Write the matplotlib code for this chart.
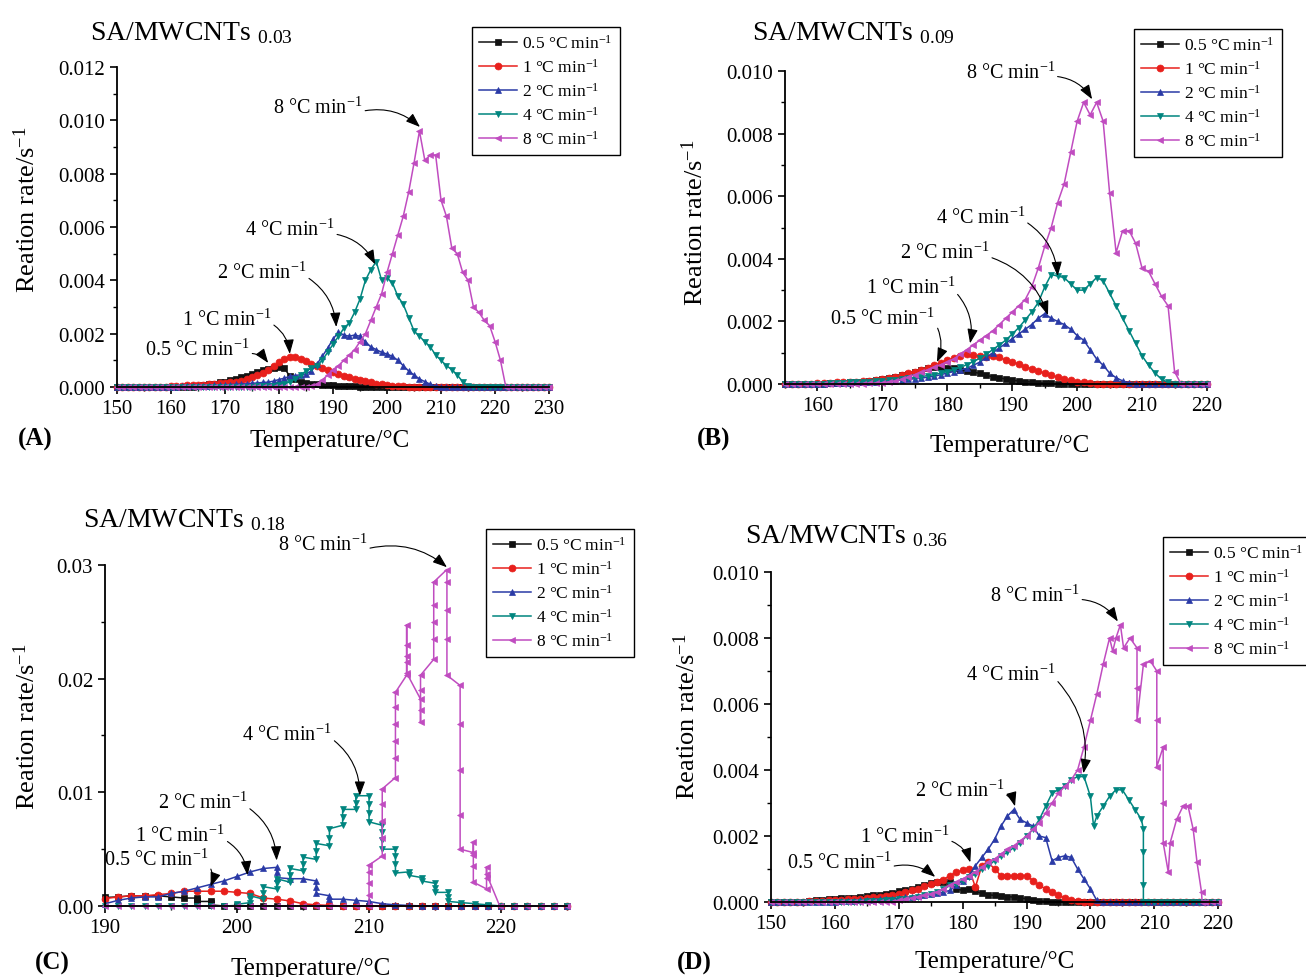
import matplotlib
matplotlib.use("Agg")
import matplotlib.pyplot as plt
from matplotlib.ticker import MultipleLocator, FormatStrFormatter

plt.rcParams['font.family'] = ['Liberation Serif', 'DejaVu Serif']
plt.rcParams['mathtext.fontset'] = 'custom'
plt.rcParams['mathtext.rm'] = 'Liberation Serif'
plt.rcParams['mathtext.it'] = 'Liberation Serif:italic'

# rates are given in units of 1e-4 s^-1
SCALE = 1e-4
heating = ['0.5', '1', '2', '4', '8']
colors = ['#111111', '#e8201c', '#2a3aa6', '#00857f', '#c04cc0']
markers = ['s', 'o', '^', 'v', '<']

# ---- (A) SA/MWCNTs 0.03 ----
temp_a = list(range(150, 231))
a_05 = [0, 0, 0, 0, 0, 0, 0, 0, 0, 0, 0, 0, 0, 0, 0,
        0.5, 0.7, 1, 1.3, 1.7, 2, 2.5, 3, 3.6, 4.2, 4.8, 5.5, 6.2, 6.8, 7.2, 7.4, 7,
        4, 3, 2, 1.5, 1.2, 1, 0.9, 0.8, 0.6, 0.5, 0.4, 0.3, 0.2, 0.15, 0.1,
        0, 0, 0, 0, 0, 0, 0, 0, 0, 0, 0, 0, 0, 0, 0, 0, 0, 0, 0, 0, 0, 0, 0, 0, 0, 0,
        0, 0, 0, 0, 0, 0, 0, 0]
a_1 = [0, 0, 0, 0, 0, 0, 0, 0, 0, 0,
       0.3, 0.4, 0.5, 0.6, 0.7, 0.8, 0.9, 1, 1.2, 1.4, 1.5, 1.7, 1.9, 2.4, 3, 3.6,
       4.4, 5.2, 6.4, 7.8, 9.2, 10.5, 11.2, 11.4, 10.5, 9.6, 8.8, 8, 7.2, 6.3, 5.5,
       4.8, 4.2, 3.6, 3.1, 2.6, 2.2, 1.8, 1.3, 1, 0.6, 0.4, 0.3, 0.2, 0.1, 0.05,
       0, 0, 0, 0, 0, 0, 0, 0, 0, 0, 0, 0, 0, 0, 0, 0, 0, 0, 0, 0, 0, 0, 0, 0, 0]
a_2 = [0, 0, 0, 0, 0, 0, 0, 0, 0, 0,
       0.1, 0.15, 0.2, 0.25, 0.3, 0.35, 0.4, 0.5, 0.6, 0.7, 0.8, 0.9, 1, 1.1, 1.2,
       1.4, 1.5, 1.7, 1.8, 2.2, 2.8, 3.3, 4, 4.3, 4.6, 4.9, 6, 8.5, 11.5, 14.5, 18,
       20.5, 19.5, 19, 19.5, 19, 17, 15, 14, 13, 12.3, 11.5, 10, 8, 6, 4.5, 3, 2, 1,
       0.4, 0.1,
       0, 0, 0, 0, 0, 0, 0, 0, 0, 0, 0, 0, 0, 0, 0, 0, 0, 0, 0, 0]
a_4 = [0, 0, 0, 0, 0, 0, 0, 0, 0, 0, 0, 0, 0, 0, 0, 0, 0, 0, 0, 0, 0, 0, 0, 0, 0,
       0.1, 0.2, 0.3, 0.4, 0.5, 0.7, 1, 2, 3, 4.5, 6, 7, 8, 10, 13, 16, 19, 22, 24,
       28, 33, 40, 44, 47, 40, 41, 39, 34, 31, 26, 21, 19, 17, 15, 12, 10, 8, 6.5,
       4.5, 2, 0.3,
       0, 0, 0, 0, 0, 0, 0, 0, 0, 0, 0, 0, 0, 0, 0]
a_8 = [0, 0, 0, 0, 0, 0, 0, 0, 0, 0, 0, 0, 0, 0, 0, 0, 0, 0, 0, 0, 0, 0, 0, 0, 0,
       0, 0, 0, 0, 0, 0, 0, 0, 0, 0,
       0.1, 0.3, 1, 2.5, 4.5, 6.5, 8, 10, 12, 14, 17, 20, 25, 30, 35, 43, 50, 57, 64,
       73, 84, 96, 85, 87, 87, 70, 64, 52, 50, 43, 40, 30, 28, 25, 23, 17, 10, 0,
       0, 0, 0, 0, 0, 0, 0, 0]

# ---- (B) SA/MWCNTs 0.09 ----
temp_b = list(range(155, 221))
b_05 = [0, 0, 0, 0, 0, 0, 0,
        0.2, 0.3, 0.4, 0.5, 0.7, 0.8, 1, 1.3, 1.6, 2, 2.4, 2.8, 3.3, 4, 4.6, 5, 5.3,
        5.3, 5.2, 5, 4.6, 4.2, 3.8, 3.4, 2.8, 2.3, 2, 1.6, 1.2, 1, 0.8, 0.6, 0.4, 0.3,
        0.2, 0.1, 0.05,
        0, 0, 0, 0, 0, 0, 0, 0, 0, 0, 0, 0, 0, 0, 0, 0, 0, 0, 0, 0, 0, 0]
b_1 = [0, 0, 0, 0, 0,
       0.2, 0.3, 0.4, 0.5, 0.6, 0.7, 0.8, 0.9, 1, 1.3, 1.6, 2, 2.4, 3, 3.5, 4, 4.6,
       5.2, 6, 6.8, 7.6, 8.3, 9, 9.6, 9.2, 8.8, 8.6, 9, 8.6, 7.6, 7, 6.4, 5.6, 4.8,
       4.2, 3.4, 2.8, 2.2, 1.6, 1.2, 0.8, 0.5, 0.3, 0.1,
       0, 0, 0, 0, 0, 0, 0, 0, 0, 0, 0, 0, 0, 0, 0, 0, 0]
b_2 = [0, 0, 0, 0, 0,
       0.1, 0.15, 0.2, 0.25, 0.3, 0.4, 0.5, 0.6, 0.7, 0.8, 0.9, 1, 1.1, 1.3, 1.5,
       1.7, 1.9, 2.2, 2.5, 3, 3.5, 4, 4.5, 5, 6, 7, 8.5, 10, 11.5, 13, 14.5, 16,
       17.5, 19, 21, 22.5, 21, 20, 19, 17.5, 15.5, 14, 11, 8, 6, 3.5, 2, 1, 0.4, 0.1,
       0, 0, 0, 0, 0, 0, 0, 0, 0, 0, 0]
b_4 = [0, 0, 0, 0, 0,
       0.1, 0.15, 0.2, 0.3, 0.4, 0.5, 0.6, 0.7, 0.8, 0.9, 1, 1.2, 1.4, 1.6, 1.8,
       2.1, 2.4, 2.7, 3, 3.5, 4, 4.6, 5.3, 6.2, 7.2, 8.2, 9.5, 11, 12.5, 14, 16, 18,
       20.5, 23, 26, 31, 35, 34.5, 34, 32, 30, 30, 32, 34, 33, 29, 25, 21, 17, 13, 9,
       6, 3.5, 1.5, 0.5,
       0, 0, 0, 0, 0, 0]
b_8 = [0, 0, 0, 0, 0, 0, 0, 0, 0, 0,
       0.05, 0.1, 0.15, 0.2, 0.2, 0.4, 0.7, 1, 1.5, 2.2, 3, 3.8, 4.6, 5.4, 6.2, 7, 8,
       9.5, 11, 12.5, 14, 15.5, 17, 19, 21, 23, 25, 27, 31, 37, 44, 50, 58, 64, 74, 84,
       90, 86, 90, 84, 61, 42, 49, 49, 45, 37, 36, 32, 28, 25, 4, 0,
       0, 0, 0, 0]

# ---- (C) SA/MWCNTs 0.18 ----
c_t_05 = [190, 191, 192, 193, 194, 195, 196, 197, 197, 197, 198, 198, 198,
          199, 200, 201, 202, 203, 204, 205, 206, 207, 208, 209, 210, 211, 212,
          213, 214, 215, 216, 217, 218, 219, 220, 221, 222, 223, 224, 225]
c_05 = [7.5, 8, 9, 9, 9, 8, 7, 7, 5.5, 4, 4, 2.5, 1,
        0, 0, 0, 0, 0, 0, 0, 0, 0, 0, 0, 0, 0, 0,
        0, 0, 0, 0, 0, 0, 0, 0, 0, 0, 0, 0, 0]
c_t_1 = list(range(190, 226))
c_1 = [6.5, 8, 9, 9, 10, 11, 13, 13, 13, 13, 12, 11, 7, 6, 4.5, 2, 1, 0.5,
       0, 0, 0, 0, 0, 0, 0, 0, 0, 0, 0, 0, 0, 0, 0, 0, 0, 0]
c_t_2 = [190, 191, 192, 193, 194, 195, 196, 197, 198, 199, 200, 201, 202, 203,
         203, 203, 204, 205, 206, 206, 206, 207, 207, 208, 209, 210, 211, 212, 213,
         214, 215, 216, 217, 218, 219, 220, 221, 222, 223, 224, 225]
c_2 = [2, 5, 7, 8, 8, 11, 13, 16, 19, 22, 26, 30, 33, 34,
       30, 25, 24, 24, 22, 17, 11, 9, 6, 6, 5, 4, 2, 1, 0.5,
       0, 0, 0, 0, 0, 0, 0, 0, 0, 0, 0, 0]
c_t_4 = [190, 191, 192, 193, 194, 195, 196, 197, 198, 199,
         200, 200, 201, 201, 201, 202, 202, 202, 203, 203, 203, 204, 204, 204,
         205, 205, 205, 206, 206, 206, 207, 207, 207, 208, 208, 208, 209, 209, 209,
         210, 210, 210, 210, 211, 211, 211, 211, 212, 212, 212, 212, 213, 213,
         214, 214, 215, 215, 215, 216, 216, 216, 217, 218, 219, 220, 221, 222, 223,
         224, 225]
c_4 = [0, 0, 0, 0, 0, 0, 0, 0, 0, 0,
       0.5, 1.5, 3, 6, 9, 6, 11, 17, 15, 20, 24, 21, 27, 33,
       31, 37, 43, 41, 48, 55, 53, 60, 68, 71, 78, 85, 85, 91, 97,
       97, 90, 82, 74, 71, 65, 58, 50, 50, 44, 37, 29, 30, 27,
       25, 22, 20, 16, 12, 12, 8, 4, 3, 2, 1, 0, 0, 0, 0,
       0, 0]
c_t_8 = [190, 191, 192, 193, 194, 195, 196, 197, 198, 199, 200, 201, 202, 203,
         204, 205, 206, 207, 208, 209,
         210, 210, 210, 210, 210, 211, 211, 211, 211, 211, 212, 212, 212, 212, 212,
         212, 212.85, 212.85, 212.85, 212.85, 212.85, 212.85, 213.9, 213.9, 213.9,
         213.9, 213.9, 214.9, 214.9, 214.9, 214.9, 214.9, 215.9, 215.9, 215.9, 215.9,
         215.9, 216.9, 216.9, 216.9, 216.9, 216.9, 217.9, 217.9, 217.9, 217.9, 217.9,
         218.9, 218.9, 218.9, 218.9, 219.9, 221, 222, 223, 224, 225]
c_8 = [0, 0, 0, 0, 0, 0, 0, 0, 0, 0, 0, 0, 0, 0,
       0, 0, 0, 0, 0, 0,
       0, 10, 20, 30, 36, 44, 60, 75, 90, 103, 113, 130, 145, 160, 175,
       188, 203, 215, 230, 247, 220, 205, 182, 172, 162,
       190, 203, 217, 235, 250, 265, 285, 296, 285, 260, 235,
       203, 194, 160, 120, 80, 50, 47, 56, 45, 35, 21,
       15, 25, 34, 28, 0, 0, 0, 0, 0, 0]

# ---- (D) SA/MWCNTs 0.36 ----
temp_d = list(range(150, 221))
d_05 = [0, 0, 0, 0, 0, 0,
        0.3, 0.5, 0.7, 0.9, 1, 1.1, 1.2, 1.3, 1.5, 1.7, 2, 2.2, 2.5, 2.8, 3.2, 3.6, 4,
        4.5, 5.2, 5.8, 6, 6.2, 6, 4, 3.5, 4, 3.2, 2.6, 2.2, 2, 1.8, 1.6, 1.5, 1.2, 1,
        0.6, 0.4, 0.2, 0.1,
        0, 0, 0, 0, 0, 0, 0, 0, 0, 0, 0, 0, 0, 0, 0, 0, 0, 0, 0, 0, 0, 0, 0, 0, 0, 0]
d_1 = [0, 0, 0, 0, 0, 0,
       0.2, 0.3, 0.4, 0.5, 0.6, 0.7, 0.8, 0.9, 1, 1.2, 1.4, 1.6, 1.8, 2, 2.5, 3, 3.5,
       4, 4.7, 5.4, 6, 6.8, 8, 9, 9.6, 10, 4.5, 11, 12, 10, 8, 8, 7.8, 8, 8, 6.5, 5,
       4, 3, 2, 1.2, 0.6, 0.2,
       0, 0, 0, 0, 0, 0, 0, 0, 0, 0, 0, 0, 0, 0, 0, 0, 0, 0, 0, 0, 0, 0]
d_2 = [0, 0, 0, 0, 0, 0, 0, 0, 0, 0,
       0.1, 0.2, 0.3, 0.4, 0.5, 0.6, 0.7, 0.8, 0.9, 1, 1.2, 1.4, 1.6, 1.8, 2, 2.3,
       2.6, 3, 3.5, 5, 6.5, 8, 11, 13.5, 16, 19, 23, 26, 28, 25, 24, 23, 20, 19.5,
       12.5, 13.5, 14, 13.5, 10, 7, 4, 0.5,
       0, 0, 0, 0, 0, 0, 0, 0, 0, 0, 0, 0, 0, 0, 0, 0, 0, 0, 0]
d_t_4 = [150, 151, 152, 153, 154, 155, 156, 157, 158, 159, 160, 161, 162, 163, 164,
         165, 166, 167, 168, 169, 170, 171, 172, 173, 174, 175, 176, 177, 178, 179,
         180, 181, 182, 183, 184, 185, 186, 187, 188, 189, 190, 191, 192, 193, 194,
         195, 196, 197, 198, 199,
         200, 200.5, 201, 202, 203, 204, 205, 206, 207, 208, 208.3, 208.3, 208.3,
         208.3, 209, 210, 211, 212, 213, 214, 215, 216, 217, 218, 219, 220]
d_4 = [0, 0, 0, 0, 0, 0, 0, 0, 0, 0, 0, 0, 0, 0, 0,
       0.2, 0.3, 0.4, 0.5, 0.6, 0.8, 1, 1.3, 1.6, 2, 2.5, 3, 3.8, 5, 5.5,
       6.5, 7.5, 8.5, 10, 11, 12.5, 14, 15, 16.5, 18, 20, 22, 25, 29, 33,
       34, 35, 37, 38, 38,
       32, 23, 26, 29, 32, 34, 34, 31, 28, 25, 22, 15, 5,
       0, 0, 0, 0, 0, 0, 0, 0, 0, 0, 0, 0, 0]
d_t_8 = [150, 151, 152, 153, 154, 155, 156, 157, 158, 159, 160, 161, 162, 163, 164,
         165, 166, 167, 168, 169,
         170, 171, 172, 173, 174, 175, 176, 177, 178, 179, 180, 181, 182, 183, 184,
         185, 186, 187, 188, 189, 190, 191, 192, 193, 194, 195, 196, 197, 198, 199,
         200, 201, 202, 203,
         203.5, 204, 204.7, 205.2, 206.2, 207.3, 207.3, 207.3, 208.3, 209.4, 210.4,
         210.4, 210.4, 211.4, 211.4, 211.4, 212.2, 212.5, 213.5, 214.5, 215.3, 216.1,
         216.7, 217.4, 217.5, 218, 219, 220]
d_8 = [0, 0, 0, 0, 0, 0, 0, 0, 0, 0, 0, 0, 0, 0, 0, 0, 0, 0, 0, 0,
       0.5, 0.8, 1.2, 1.6, 2, 2.5, 3, 4, 5, 6, 7, 8, 9, 10.5, 12, 13, 14.5, 16, 17,
       18.5, 20, 22, 24, 27, 30, 33, 35, 37, 40, 47, 55, 63, 72, 80,
       76, 80, 84, 77, 80, 77, 65, 55, 72, 73, 70, 55, 41, 47, 30, 18, 9, 18, 25, 29,
       29, 22, 12, 3, 0, 0, 0, 0]

panels = [
    dict(curves=[(temp_a, a_05), (temp_a, a_1), (temp_a, a_2), (temp_a, a_4), (temp_a, a_8)],
         rect=[0.0896, 0.6033, 0.3308, 0.3272], xlim=(150, 230), ylim=(0, 0.012),
         xmaj=10, ymaj=0.002, fmt='%.3f', sub='0.03', tag='(A)',
         title_xy=(90, 40), tag_xy=(18, 446), leg_xy=(472, 28),
         ylab=(-0.178, 0.556), xlab=(0.493, -0.131),
         notes=[((155.2, 14.2), (178, 9)), ((162, 25.5), (182, 12.4)),
                ((168.5, 43), (190.6, 22.5)), ((173.7, 59), (197.8, 46)),
                ((178.9, 105), (206.1, 97.5))]),
    dict(curves=[(temp_b, b_05), (temp_b, b_1), (temp_b, b_2), (temp_b, b_4), (temp_b, b_8)],
         rect=[0.6011, 0.6063, 0.3231, 0.3200], xlim=(155, 220), ylim=(0, 0.010),
         xmaj=10, ymaj=0.002, fmt='%.3f', sub='0.09', tag='(B)',
         title_xy=(752, 40), tag_xy=(697, 446), leg_xy=(1134, 30),
         ylab=(-0.182, 0.52), xlab=(0.533, -0.16),
         notes=[((162, 21), (178.4, 7)), ((167.4, 31), (183.5, 13)),
                ((172.7, 42), (195.5, 22)), ((178.2, 53.4), (197, 34.5)),
                ((182.8, 99.7), (202.3, 91))]),
    dict(curves=[(c_t_05, c_05), (c_t_1, c_1), (c_t_2, c_2), (c_t_4, c_4), (c_t_8, c_8)],
         rect=[0.0804, 0.0726, 0.3538, 0.3487], xlim=(190, 225), ylim=(0, 0.03),
         xmaj=10, ymaj=0.01, fmt='%.2f', sub='0.18', tag='(C)',
         title_xy=(83, 527), tag_xy=(35, 970), leg_xy=(486, 530),
         ylab=(-0.141, 0.528), xlab=(0.444, -0.15),
         notes=[((189.9, 41), (198, 17)), ((192.3, 62), (200.8, 27)),
                ((194, 91), (203, 40)), ((200.4, 151), (209.3, 97)),
                ((203.1, 318), (215.9, 298))]),
    dict(curves=[(temp_d, d_05), (temp_d, d_1), (temp_d, d_2), (d_t_4, d_4), (d_t_8, d_8)],
         rect=[0.5904, 0.0767, 0.3423, 0.3374], xlim=(150, 220), ylim=(0, 0.010),
         xmaj=10, ymaj=0.002, fmt='%.3f', sub='0.36', tag='(D)',
         title_xy=(745, 543), tag_xy=(677, 970), leg_xy=(1163, 538),
         ylab=(-0.159, 0.564), xlab=(0.501, -0.145),
         notes=[((152.5, 12), (175.7, 7.6)), ((163.9, 20), (181.2, 12)),
                ((172.5, 34), (188.2, 29)), ((180.5, 69), (198.9, 39)),
                ((184.3, 93), (204.3, 85))]),
]

W, H = 1306, 978
fig = plt.figure(figsize=(W / 100, H / 100), dpi=100)

for p in panels:
    ax = fig.add_axes(p['rect'])
    for (t, v), r, c, m in zip(p['curves'], heating, colors, markers):
        ax.plot(t, [x * SCALE for x in v], color=c, marker=m, ms=5, lw=1.1,
                mew=0.5, label=f'{r} °C min$^{{-1}}$', clip_on=False)

    ax.set_xlim(*p['xlim'])
    ax.set_ylim(*p['ylim'])
    ax.xaxis.set_major_locator(MultipleLocator(p['xmaj']))
    ax.xaxis.set_minor_locator(MultipleLocator(p['xmaj'] / 2))
    ax.yaxis.set_major_locator(MultipleLocator(p['ymaj']))
    ax.yaxis.set_minor_locator(MultipleLocator(p['ymaj'] / 2))
    ax.yaxis.set_major_formatter(FormatStrFormatter(p['fmt']))
    ax.tick_params(which='major', direction='out', length=5, width=1.2, labelsize=15)
    ax.tick_params(which='minor', direction='out', length=3, width=1)
    for s in ['top', 'right']:
        ax.spines[s].set_visible(False)
    for s in ['left', 'bottom']:
        ax.spines[s].set_linewidth(1.3)

    ax.set_xlabel('Temperature/°C', fontsize=18)
    ax.set_ylabel('Reation rate/s$^{-1}$', fontsize=19)
    ax.xaxis.set_label_coords(*p['xlab'])
    ax.yaxis.set_label_coords(*p['ylab'])

    for ((tx, ty), (px, py)), r in zip(p['notes'], heating):
        ax.annotate(f'{r} °C min$^{{-1}}$', xy=(px, py * SCALE), xytext=(tx, ty * SCALE),
                    fontsize=14.5, ha='left', va='center', annotation_clip=False,
                    arrowprops=dict(arrowstyle='-|>,head_length=0.6,head_width=0.22',
                                    color='black', lw=0.8, relpos=(1.0, 0.3),
                                    shrinkA=0, shrinkB=0,
                                    connectionstyle='arc3,rad=-0.25'))

    lx, ly = p['leg_xy']
    leg = ax.legend(loc='upper left', bbox_to_anchor=(lx / W, 1 - ly / H),
                    bbox_transform=fig.transFigure, fancybox=False, edgecolor='black',
                    framealpha=1, fontsize=12.5, handlelength=2.2, borderpad=0.4,
                    labelspacing=0.35, handletextpad=0.3, borderaxespad=0)
    leg.get_frame().set_linewidth(1.0)

    tx, ty = p['title_xy']
    fig.text(tx / W, 1 - ty / H, f'SA/MWCNTs $_{{{p["sub"]}}}$', fontsize=20,
             ha='left', va='baseline')
    gx, gy = p['tag_xy']
    fig.text(gx / W, 1 - gy / H, p['tag'], fontsize=18, fontweight='bold',
             ha='left', va='baseline')

fig.savefig('out.png', dpi=100)
